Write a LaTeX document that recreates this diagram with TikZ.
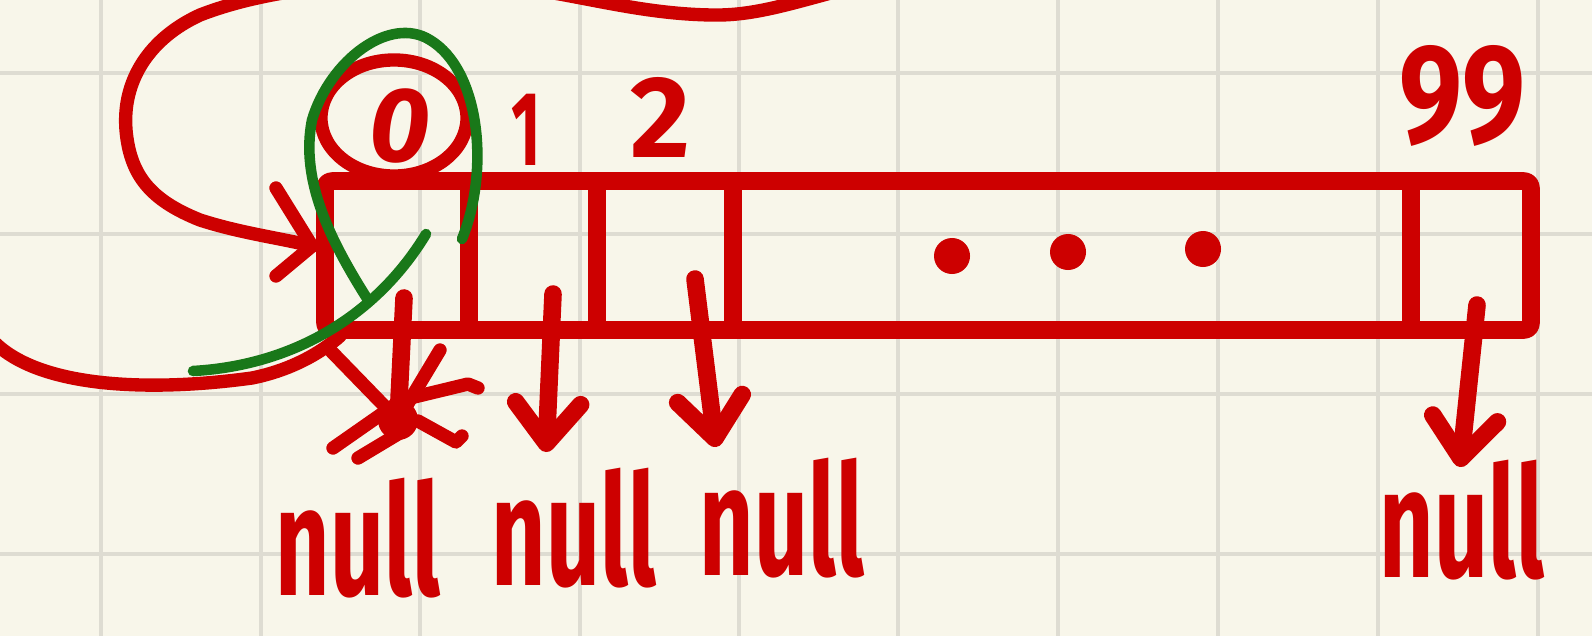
\documentclass[tikz,border=0pt]{standalone}
\usepackage{fontspec}
\setmainfont{Fira Sans}
\usepackage{pdfrender}
\usepackage{tikz}
\usetikzlibrary{arrows.meta,calc,positioning}
\definecolor{pencolor}{RGB}{205,0,0}
\definecolor{lassocolor}{RGB}{25,120,25}
\definecolor{papercolor}{RGB}{248,246,234}
\definecolor{gridcolor}{RGB}{222,220,210}
\newcommand{\inked}[1]{\textpdfrender{TextRenderingMode=FillStroke,LineWidth=1.5pt,LineJoin=Round,StrokeColor=pencolor,FillColor=pencolor}{#1}}
\newcommand{\nullword}{\scalebox{1.22}[2.0]{\inked{null}}}
\tikzset{
  pen/.style={pencolor,line width=5pt,line cap=round,line join=round},
  thinpen/.style={pencolor,line width=3.8pt,line cap=round,line join=round},
  lasso/.style={lassocolor,line width=3pt,line cap=round,line join=round},
  barb/.style={-{Straight Barb[length=4mm,width=6.5mm,round]}},
  idx/.style={pencolor,inner sep=0pt,font=\fontsize{30}{30}\selectfont\bfseries},
  nulltxt/.style={pencolor,inner sep=0pt,font=\fontsize{22}{22}\selectfont\bfseries},
}

\begin{document}
\begin{tikzpicture}[x=0.01cm,y=-0.01cm]
  % squared paper
  \fill[papercolor] (0,0) rectangle (1592,636);
  \useasboundingbox (0,0) rectangle (1592,636);
  \foreach \gx in {101,261,420,580,739,898,1058,1218,1378,1538}
    \draw[gridcolor,line width=1pt] (\gx,0) -- (\gx,636);
  \foreach \gy in {73,234,394,554}
    \draw[gridcolor,line width=1pt] (0,\gy) -- (1592,\gy);

  % the array and its slots
  \draw[pen,rounded corners=2pt] (325,181) rectangle (1531,330);
  \foreach \cx in {469,597,733,1411}
    \draw[pen] (\cx,181) -- (\cx,330);
  \foreach \dx/\dy in {952/256,1068/252,1203/249}
    \fill[pencolor] (\dx,\dy) circle (0.18cm);

  % indices
  \node[idx] (i0) at (400,126) {\itshape\inked{0}};
  \node[idx] (i1) at (526,130) {\scalebox{0.6}[1]{\inked{1}}};
  \node[idx] (i2) at (660,117) {\fontsize{33}{33}\selectfont\inked{2}};
  \node[idx] (i99) at (1462,96) {\fontsize{40}{40}\selectfont\scalebox{0.8}[1]{\inked{99}}};
  \draw[thinpen] (394,118) ellipse [x radius=0.73cm, y radius=0.58cm];

  % null entries
  \node[nulltxt] (n0) at (358,538) {\nullword};
  \node[nulltxt] (n1) at (574,528) {\nullword};
  \node[nulltxt] (n2) at (782,518) {\nullword};
  \node[nulltxt] (n99) at (1462,520) {\nullword};

  \coordinate (s1) at (553,294);  \coordinate (t1) at (546,452);
  \coordinate (s2) at (695,279);  \coordinate (t2) at (716,447);
  \coordinate (s99) at (1477,305); \coordinate (t99) at (1460,467);
  \foreach \k in {1,2,99}
    \draw[pen,barb] (s\k) -- (t\k);

  % slot 0 pointer, crossed out
  \coordinate (s0) at (404,298);  \coordinate (t0) at (398,420);
  \draw[pen] (s0) -- (t0);
  \draw[thinpen] (330,350) -- (t0) -- (440,350);
  \fill[pencolor] (t0) circle (0.2cm);
  \draw[thinpen] (333,448) -- (396,404);
  \draw[thinpen] (358,458) -- (408,428);
  \draw[thinpen] (410,398) -- (468,384) -- (478,388);
  \draw[thinpen] (418,421) -- (456,442) -- (462,436);

  % the loop back into slot 0
  \coordinate (tip) at (312,246);
  \draw[thinpen] (880,-20) .. controls (800,0) and (760,16) .. (712,15)
    .. controls (640,14) and (580,-5) .. (520,-12)
    .. controls (420,-22) and (290,-20) .. (200,15)
    .. controls (150,38) and (122,80) .. (126,130)
    .. controls (130,175) and (150,200) .. (200,220)
    .. controls (240,233) and (280,238) .. (tip);
  \draw[thinpen] (276,188) -- (tip) -- (276,276);
  \draw[thinpen] (-6,342) .. controls (40,388) and (150,392) .. (252,378)
    .. controls (292,370) and (322,352) .. (340,336);

  % green lasso
  \draw[lasso] (462,239) .. controls (490,170) and (480,70) .. (430,40)
    .. controls (390,15) and (330,60) .. (312,120)
    .. controls (300,180) and (330,240) .. (368,300);
  \draw[lasso] (426,234) .. controls (380,310) and (300,365) .. (193,371);
\end{tikzpicture}
\end{document}
